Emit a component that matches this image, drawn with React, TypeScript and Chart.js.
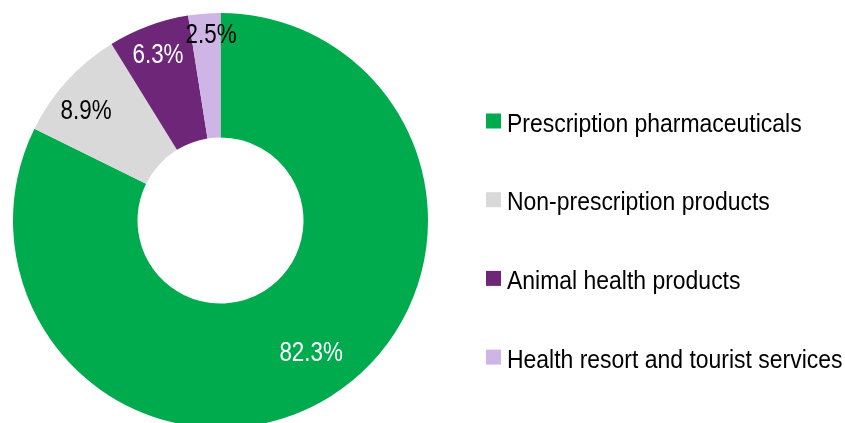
import React, { useEffect, useRef } from "react";
import { Chart, registerables } from "chart.js";

Chart.register(...registerables);

// ---- data ----
const categories = [
  "Prescription pharmaceuticals",
  "Non-prescription products",
  "Animal health products",
  "Health resort and tourist services",
];
const shares = [82.3, 8.9, 6.3, 2.5];
const valueLabels = ["82.3%", "8.9%", "6.3%", "2.5%"];

// ---- styles ----
const COLORS = ["#00AB4E", "#D9D9D9", "#6E2678", "#CFB4E6"];
const LABEL_COLORS = ["#FFFFFF", "#000000", "#FFFFFF", "#000000"];
const LABEL_OFFSETS: [number, number][] = [
  [14, 7],
  [-27, -14],
  [-12, -31],
  [2, -43],
];
const FONT_FAMILY = '"Liberation Sans", Arial, sans-serif';

const W = 845;
const H = 460;

const labelPlugin = {
  id: "sliceLabels",
  afterDatasetsDraw(chart: any) {
    const ctx = chart.ctx;
    const meta = chart.getDatasetMeta(0);
    meta.data.forEach((arc: any, i: number) => {
      const p = arc.getProps(
        ["x", "y", "startAngle", "endAngle", "innerRadius", "outerRadius"],
        true
      );
      const mid = (p.startAngle + p.endAngle) / 2;
      const r = (p.innerRadius + p.outerRadius) / 2;
      const px = p.x + Math.cos(mid) * r + LABEL_OFFSETS[i][0];
      const py = p.y + Math.sin(mid) * r + LABEL_OFFSETS[i][1];
      ctx.save();
      ctx.translate(px, py + 10);
      ctx.scale(0.8, 1);
      ctx.font = `28px ${FONT_FAMILY}`;
      ctx.fillStyle = LABEL_COLORS[i];
      ctx.textAlign = "center";
      ctx.textBaseline = "alphabetic";
      ctx.fillText(valueLabels[i], 0, 0);
      ctx.restore();
    });
  },
};

const legendPlugin = {
  id: "sideLegend",
  afterDraw(chart: any) {
    const ctx = chart.ctx;
    const boxX = 486;
    const textX = 507;
    const firstBaseline = 131.5;
    const step = 78.7;
    categories.forEach((name, i) => {
      const base = firstBaseline + i * step;
      ctx.save();
      ctx.fillStyle = COLORS[i];
      ctx.fillRect(boxX, base - 18, 15, 15);
      ctx.translate(textX, base);
      ctx.scale(0.9, 1);
      ctx.font = `25.5px ${FONT_FAMILY}`;
      ctx.fillStyle = "#000000";
      ctx.textAlign = "left";
      ctx.textBaseline = "alphabetic";
      ctx.fillText(name, 0, 0);
      ctx.restore();
    });
  },
};

export default function App() {
  const ref = useRef<HTMLCanvasElement | null>(null);

  useEffect(() => {
    if (!ref.current) return;
    const chart = new Chart(ref.current, {
      type: "doughnut",
      data: {
        labels: categories,
        datasets: [
          {
            data: shares,
            backgroundColor: COLORS,
            borderWidth: 0,
          },
        ],
      },
      options: {
        responsive: false,
        animation: false,
        devicePixelRatio: 1,
        cutout: "40%",
        layout: {
          padding: { left: 13, top: 13, right: W - 428, bottom: H - 428 },
        },
        plugins: {
          legend: { display: false },
          tooltip: { enabled: false },
        },
      },
      plugins: [labelPlugin, legendPlugin],
    });
    return () => chart.destroy();
  }, []);

  return (
    <div
      style={{
        position: "fixed",
        left: 0,
        top: 0,
        width: W,
        height: 423,
        overflow: "hidden",
        background: "#FFFFFF",
      }}
    >
      <canvas ref={ref} width={W} height={H} style={{ display: "block" }} />
    </div>
  );
}
